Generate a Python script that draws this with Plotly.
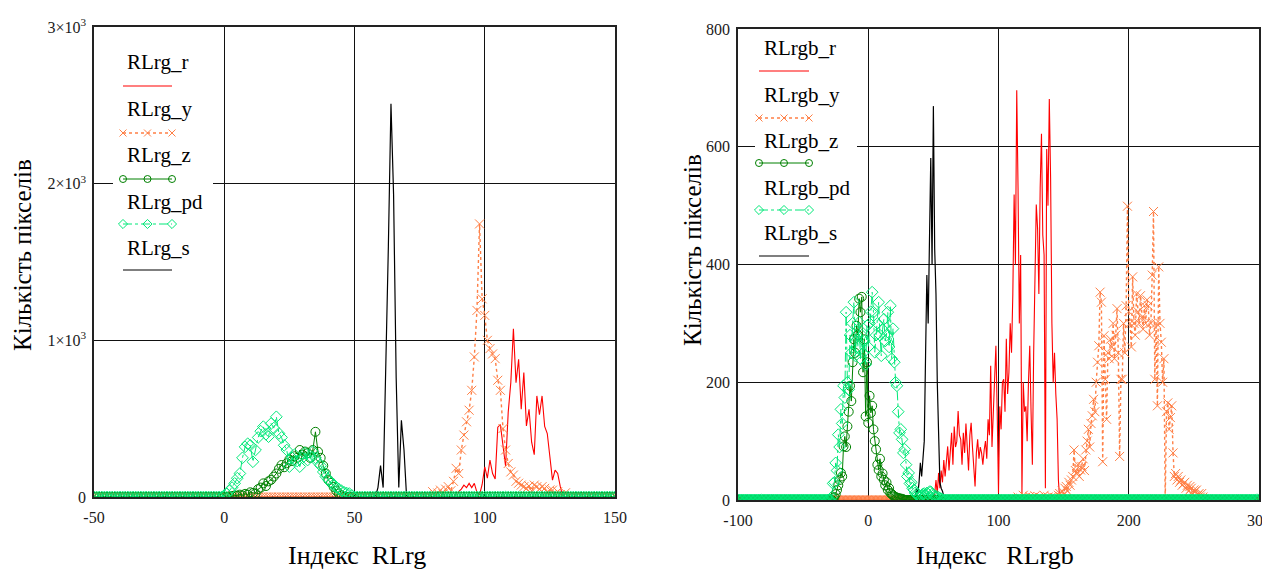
import plotly.graph_objects as go

# ---------------------------------------------------------------------------
# Дані (зчитано з графіків)

# ліворуч: індекс RLrg від -50 до 150
rg_idx = list(range(-50, 151))

rg_r_start = 89
rg_r_vals = [20, 34, 50, 76, 60, 87, 60, 87, 30, 13, 80, 193, 120, 236, 150, 115,
             446, 462, 330, 196, 539, 730, 1074, 730, 879, 560, 794, 454, 560, 350,
             270, 645, 525, 645, 450, 405, 257, 108, 172, 150, 66, 0]

rg_y_start = 80
rg_y_vals = [34, 15, 25, 44, 20, 50, 66, 40, 100, 183, 150, 300, 395, 480, 554,
             681, 894, 1191, 1743, 1265, 1159, 1000, 947, 913, 883, 745, 681, 437,
             300, 214, 160, 140, 100, 88, 76, 66, 55, 70, 40, 76, 66, 50, 66, 55,
             30, 45, 44, 20, 34, 15, 10, 27, 0]

rg_z_start = 2
rg_z_vals = [5, 5, 10, 8, 15, 10, 20, 15, 30, 25, 23, 50, 60, 87, 70, 100, 110, 130,
             150, 180, 204, 190, 215, 240, 230, 260, 250, 300, 270, 290, 280, 250,
             300, 416, 289, 250, 200, 150, 108, 90, 64, 40, 22, 10, 0]

rg_pd_start = 0
rg_pd_vals = [10, 20, 40, 60, 87, 120, 150, 250, 320, 340, 330, 225, 300, 380, 420,
              449, 400, 385, 469, 440, 512, 406, 380, 330, 300, 194, 250, 270, 230,
              194, 250, 280, 236, 260, 290, 250, 220, 200, 160, 130, 110, 90, 80, 60,
              50, 40, 30, 25, 22, 10, 0]

rg_s_start = 58
rg_s_vals = [0, 60, 200, 60, 760, 1600, 2510, 1930, 760, 60, 490, 300, 0]

# праворуч: індекс RLrgb від -100 до 300
rgb_idx = list(range(-100, 301))

rgb_r_start = 51
rgb_r_vals = [10, 34, 10, 46, 20, 50, 30, 68, 40, 60,
              91, 50, 80, 114, 60, 125, 90, 100, 151, 110,
              103, 60, 114, 80, 130, 85, 50, 110, 131, 90,
              60, 23, 80, 103, 70, 90, 80, 60, 85, 100,
              70, 137, 110, 228, 90, 148, 200, 262, 150, 11,
              159, 120, 200, 205, 150, 274, 180, 217, 300, 250,
              350, 519, 400, 696, 530, 300, 416, 11, 200, 150,
              159, 100, 200, 262, 150, 60, 250, 380, 502, 461,
              350, 530, 622, 450, 416, 20, 596, 500, 681, 547,
              300, 199, 250, 180, 137, 34, 0]

rgb_y_start = 114
rgb_y_vals = [0, 5, 0, 3, 0, 8, 0, 5, 0, 0, 6, 0, 4, 0, 7, 0, 0, 5, 0, 3,
              0, 8, 0, 0, 5, 0, 0, 6, 0, 4, 0, 3, 8,
              11, 5, 15, 10, 20, 23, 15, 30, 25, 34,
              40, 85, 50, 45, 60, 40, 51, 57, 70, 50,
              85, 100, 120, 90, 130, 143, 171, 150, 200, 234,
              262, 353, 336, 65, 279, 205, 137, 250, 240, 273,
              260, 300, 240, 280, 325, 250, 74, 205, 205, 300,
              250, 330, 499, 320, 300, 260, 379, 300, 280, 350,
              320, 300, 347, 310, 290, 330, 300, 340, 330, 280,
              300, 382, 490, 205, 300, 160, 396, 300, 268, 200,
              240, 0, 150, 165, 120, 140, 160, 80, 40, 45,
              34, 40, 30, 34, 25, 28, 30, 20, 25, 15,
              23, 20, 10, 17, 15, 17, 8, 11, 5, 11,
              5, 0]

rgb_z_start = -28
rgb_z_vals = [0, 3, 5, 10, 17, 25, 34, 46, 40, 91, 108, 90, 125, 150, 194, 168,
              234, 273, 250, 296, 280, 342, 319, 345, 217, 273, 142, 234, 131, 177,
              148, 160, 120, 100, 86, 60, 51, 70, 40, 45, 34, 25, 30, 17, 20, 12,
              10, 8, 6, 5, 4, 3, 3, 2, 2, 1, 0]

rgb_pd_start = -29
rgb_pd_vals = [0, 5, 28, 30, 63, 50, 111, 90, 154, 130,
               194, 174, 319, 200, 188, 280, 250, 300, 336, 245,
               280, 260, 302, 240, 280, 250, 270, 230, 296, 260,
               300, 320, 353, 319, 251, 280, 300, 336, 280, 245,
               290, 307, 270, 280, 319, 260, 330, 240, 291, 234,
               200, 194, 150, 114, 120, 103, 80, 86, 60, 40,
               46, 28, 30, 20, 17, 12, 10, 8, 6, 6,
               8, 10, 11, 8, 12, 10, 14, 14, 10, 8,
               6, 6, 6, 4, 3, 2, 1, 0]

rgb_s_start = 35
rgb_s_vals = [0, 5, 20, 10, 30, 63, 40, 70, 100, 245, 382, 300, 433, 581, 400,
              669, 427, 350, 200, 120, 30, 20, 15, 6, 0]

rg_names = ['RLrg_r', 'RLrg_y', 'RLrg_z', 'RLrg_pd', 'RLrg_s']
rgb_names = ['RLrgb_r', 'RLrgb_y', 'RLrgb_z', 'RLrgb_pd', 'RLrgb_s']
rg_xticks = [-50, 0, 50, 100, 150]
rg_xtext = ['-50', '0', '50', '100', '150']
rg_yticks = [0, 1000, 2000, 3000]
rg_ytext = ['0', '1×10<sup>3</sup>', '2×10<sup>3</sup>', '3×10<sup>3</sup>']
rgb_xticks = [-100, 0, 100, 200, 300]
rgb_xtext = ['-100', '0', '100', '200', '300']
rgb_yticks = [0, 200, 400, 600, 800]
y_title = 'Кількість пікселів'
rg_x_title = 'Індекс  RLrg'
rgb_x_title = 'Індекс   RLrgb'

# ---------------------------------------------------------------------------

# сторінка має відступ 8 px, тому фігура менша на 8 px і координати зсунуті
PAGE_OFF = 8
W, H = 1270 - PAGE_OFF, 573 - PAGE_OFF
SERIF = 'Times New Roman, Liberation Serif, DejaVu Serif, serif'
RED, ORANGE, DKGREEN, LTGREEN, BLACK = '#ff0000', '#ff7f45', '#008000', '#00e878', '#000000'


def full(idx, start, vals):
    out = [0] * len(idx)
    for k, v in enumerate(vals):
        out[start - idx[0] + k] = v
    return out


def px(x):
    return (x - PAGE_OFF) / W


def py(y):
    return 1 - (y - PAGE_OFF) / H


styles = {
    'r': dict(mode='lines', line=dict(color=RED, width=1.1)),
    's': dict(mode='lines', line=dict(color=BLACK, width=1.2)),
    'y': dict(mode='lines+markers', line=dict(color=ORANGE, width=1.4, dash='dot'),
              marker=dict(symbol='x-thin-open', size=9, color=ORANGE, line=dict(width=1, color=ORANGE))),
    'z': dict(mode='lines+markers', line=dict(color=DKGREEN, width=1),
              marker=dict(symbol='circle-open', size=9, color=DKGREEN, line=dict(width=1, color=DKGREEN))),
    'pd': dict(mode='lines+markers', line=dict(color=LTGREEN, width=1, dash='dashdot'),
               marker=dict(symbol='diamond-open', size=9, color=LTGREEN, line=dict(width=1, color=LTGREEN))),
}

fig = go.Figure()

left = {'r': (rg_r_start, rg_r_vals), 's': (rg_s_start, rg_s_vals), 'y': (rg_y_start, rg_y_vals),
        'z': (rg_z_start, rg_z_vals), 'pd': (rg_pd_start, rg_pd_vals)}
right = {'r': (rgb_r_start, rgb_r_vals), 's': (rgb_s_start, rgb_s_vals), 'y': (rgb_y_start, rgb_y_vals),
         'z': (rgb_z_start, rgb_z_vals), 'pd': (rgb_pd_start, rgb_pd_vals)}

# порядок малювання: r, s, y, z, pd (зелений зверху на нулі)
for key in ['r', 's', 'y', 'z', 'pd']:
    st, vals = left[key]
    fig.add_trace(go.Scatter(x=rg_idx, y=full(rg_idx, st, vals), xaxis='x', yaxis='y',
                             showlegend=False, **styles[key]))
for key in ['r', 's', 'y', 'z', 'pd']:
    st, vals = right[key]
    fig.add_trace(go.Scatter(x=rgb_idx, y=full(rgb_idx, st, vals), xaxis='x2', yaxis='y2',
                             showlegend=False, **styles[key]))

# ---------------------------------------------------------------------------
# легенда в стилі Mathcad (підпис, під ним зразок лінії)

annotations = []
legend_boxes = [
    # (вісь x, вісь y, діапазон x у px, діапазон y у px, рамка, x тексту, y текстів, x зразків, y зразків, назви)
    ('x3', 'y3', [94, 615], [497, 27], (113, 213, 45, 280), 125,
     [62, 109, 155, 202, 248], (123, 172), [86, 133, 179, 224, 270], rg_names),
    ('x4', 'y4', [738, 1259], [500, 29], (755, 857, 33, 264), 762,
     [48, 95, 141, 188, 233], (759, 809), [71, 118, 163, 210, 256], rgb_names),
]
order = ['r', 'y', 'z', 'pd', 's']
for xa, ya, xr, yr, box, tx, tys, sx, sys_, names in legend_boxes:
    x0, x1, y0, y1 = box
    fig.add_trace(go.Scatter(x=[x0, x1, x1, x0, x0], y=[y0, y0, y1, y1, y0], fill='toself',
                             fillcolor='white', mode='none', xaxis=xa, yaxis=ya, showlegend=False,
                             hoverinfo='skip'))
    for key, name, ty, sy in zip(order, names, tys, sys_):
        st = styles[key]
        if key in ('r', 's'):
            xs, ys = [sx[0], sx[1]], [sy, sy]
        else:
            xs, ys = [sx[0], (sx[0] + sx[1]) / 2, sx[1]], [sy, sy, sy]
        kw = dict(st)
        if 'marker' in kw:
            kw['marker'] = dict(kw['marker'], size=7)
        fig.add_trace(go.Scatter(x=xs, y=ys, xaxis=xa, yaxis=ya, showlegend=False,
                                 hoverinfo='skip', **kw))
        annotations.append(dict(x=px(tx), y=py(ty), xref='paper', yref='paper', text=name,
                                showarrow=False, xanchor='left', yanchor='middle',
                                font=dict(family=SERIF, size=21, color='black')))

# підписи осей
title_font = dict(family=SERIF, size=25, color='black')
annotations += [
    dict(x=px(23), y=py(255), text=y_title, textangle=-90, font=title_font),
    dict(x=px(692), y=py(250), text=y_title, textangle=-90, font=title_font),
    dict(x=px(357), y=py(555), text=rg_x_title.replace(' ', '\u00a0'), font=dict(title_font, size=26)),
    dict(x=px(995), y=py(555), text=rgb_x_title.replace(' ', '\u00a0'), font=dict(title_font, size=26)),
]
for a in annotations[-4:]:
    a.update(xref='paper', yref='paper', showarrow=False, xanchor='center', yanchor='middle',
             borderpad=0)

tickfont = dict(family=SERIF, size=16, color='#1a1a1a')
axis_common = dict(showline=True, linecolor='#222', linewidth=1.5, mirror=True,
                   showgrid=True, gridcolor='#111', gridwidth=1.2, zeroline=False,
                   ticks='', tickfont=tickfont, fixedrange=True, automargin=False,
                   ticklabeloverflow='allow')
hidden = dict(visible=False, showgrid=False, zeroline=False, fixedrange=True, automargin=False)

fig.update_layout(
    width=W, height=H,
    margin=dict(l=0, r=0, t=0, b=0, autoexpand=False),
    font=dict(family=SERIF),
    paper_bgcolor='white', plot_bgcolor='white',
    showlegend=False,
    xaxis=dict(domain=[px(94), px(615)], range=[-50, 150], tickvals=rg_xticks, ticktext=rg_xtext,
               anchor='y', ticklabelstandoff=5, **axis_common),
    yaxis=dict(domain=[py(497), py(27)], range=[0, 3000], tickvals=rg_yticks, ticktext=rg_ytext,
               anchor='x', ticklabelstandoff=3, **axis_common),
    xaxis2=dict(domain=[px(738), px(1259)], range=[-100, 300], tickvals=rgb_xticks, ticktext=rgb_xtext,
                anchor='y2', ticklabelstandoff=5, **axis_common),
    yaxis2=dict(domain=[py(500), py(29)], range=[0, 800], tickvals=rgb_yticks,
                anchor='x2', ticklabelstandoff=3, **axis_common),
    xaxis3=dict(overlaying='x', range=legend_boxes[0][2], anchor='y3', **hidden),
    yaxis3=dict(overlaying='y', range=legend_boxes[0][3], anchor='x3', **hidden),
    xaxis4=dict(overlaying='x2', range=legend_boxes[1][2], anchor='y4', **hidden),
    yaxis4=dict(overlaying='y2', range=legend_boxes[1][3], anchor='x4', **hidden),
    annotations=annotations,
)

fig.write_html("out.html")
